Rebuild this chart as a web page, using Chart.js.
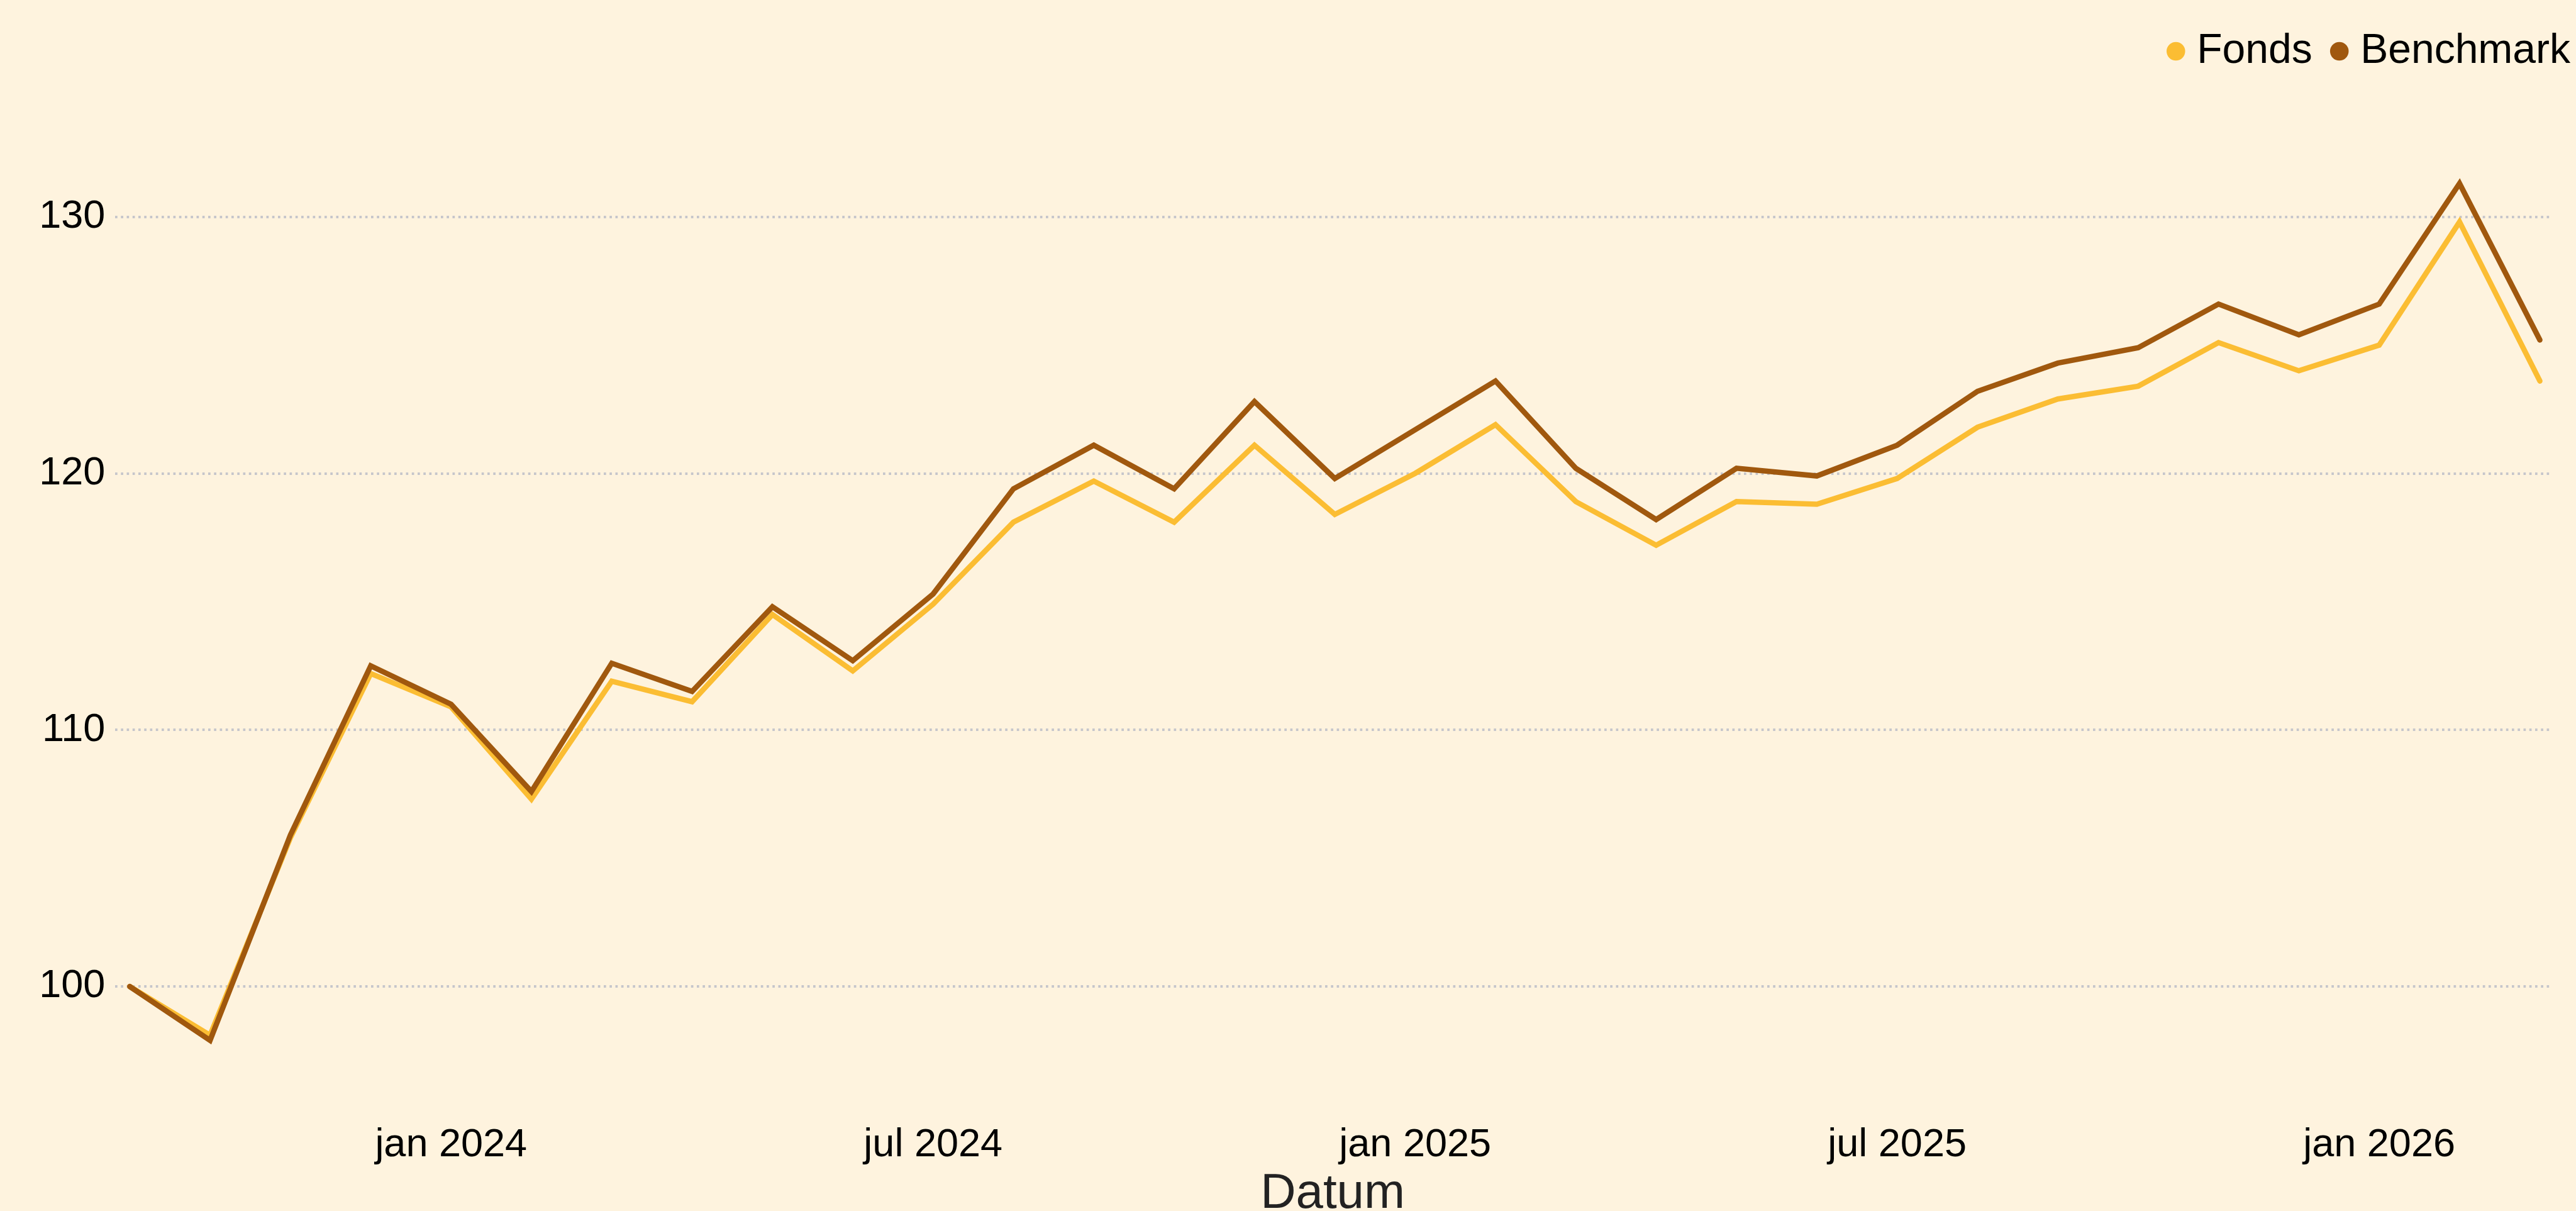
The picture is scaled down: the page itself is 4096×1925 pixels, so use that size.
<!DOCTYPE html>
<html>
<head>
<meta charset="utf-8">
<script src="https://cdn.jsdelivr.net/npm/chart.js@4.4.1/dist/chart.umd.min.js"></script>
<style>
  html, body { margin: 0; padding: 0; background: #fef3de; }
  canvas { display: block; }
</style>
</head>
<body>
<canvas id="fundChart" width="4096" height="1925"></canvas>
<script>
// monthly points, sep 2023 .. mrt 2026
const months = [
  "sep 2023", "okt 2023", "nov 2023", "dec 2023",
  "jan 2024", "feb 2024", "mrt 2024", "apr 2024", "mei 2024", "jun 2024",
  "jul 2024", "aug 2024", "sep 2024", "okt 2024", "nov 2024", "dec 2024",
  "jan 2025", "feb 2025", "mrt 2025", "apr 2025", "mei 2025", "jun 2025",
  "jul 2025", "aug 2025", "sep 2025", "okt 2025", "nov 2025", "dec 2025",
  "jan 2026", "feb 2026", "mrt 2026"
];

const fonds = [
  100.0, 98.1, 105.8, 112.2, 110.9, 107.3, 111.9, 111.1, 114.5, 112.3,
  114.9, 118.1, 119.7, 118.1, 121.1, 118.4, 120.0, 121.9, 118.9, 117.2,
  118.9, 118.8, 119.8, 121.8, 122.9, 123.4, 125.1, 124.0, 125.0, 129.8,
  123.6
];

const benchmark = [
  100.0, 97.9, 105.9, 112.5, 111.0, 107.6, 112.6, 111.5, 114.8, 112.7,
  115.3, 119.4, 121.1, 119.4, 122.8, 119.8, 121.7, 123.6, 120.2, 118.2,
  120.2, 119.9, 121.1, 123.2, 124.3, 124.9, 126.6, 125.4, 126.6, 131.3,
  125.2
];

const yTicks = [100, 110, 120, 130];

// x ticks only at january / july
const xTicks = months
  .map((m, i) => (m.startsWith("jan") || m.startsWith("jul") ? i : null))
  .filter((i) => i !== null);

const FONT = "'Liberation Sans', Arial, Helvetica, sans-serif";
Chart.defaults.font.family = FONT;

const toPoints = (arr) => arr.map((y, i) => ({ x: i, y }));

const ctx = document.getElementById("fundChart");

new Chart(ctx, {
  type: "line",
  data: {
    datasets: [
      {
        label: "Fonds",
        data: toPoints(fonds),
        borderColor: "#fbbd33",
        backgroundColor: "#fbbd33",
        borderWidth: 8.5,
        borderCapStyle: "round",
        pointRadius: 0,
        tension: 0,
        order: 1
      },
      {
        label: "Benchmark",
        data: toPoints(benchmark),
        borderColor: "#a0580e",
        backgroundColor: "#a0580e",
        borderWidth: 8.5,
        borderCapStyle: "round",
        pointRadius: 0,
        tension: 0,
        order: 0
      }
    ]
  },
  options: {
    responsive: false,
    animation: false,
    devicePixelRatio: 1,
    layout: {
      padding: { top: 6, left: 0, right: -33.5, bottom: 0 }
    },
    plugins: {
      tooltip: { enabled: false },
      legend: {
        position: "top",
        align: "end",
        labels: {
          color: "#000",
          font: { size: 66 },
          usePointStyle: true,
          pointStyle: "circle",
          boxWidth: 1,
          boxHeight: 20.9,
          padding: 42.5,
          sort: (a, b) => a.datasetIndex - b.datasetIndex,
          generateLabels: (chart) =>
            Chart.defaults.plugins.legend.labels
              .generateLabels(chart)
              .map((item) => ({ ...item, lineWidth: 0 }))
        }
      }
    },
    scales: {
      x: {
        type: "linear",
        min: -0.179,
        max: 30.127,
        afterBuildTicks: (scale) => {
          scale.ticks = xTicks.map((v) => ({ value: v }));
        },
        afterFit: (scale) => {
          scale.height = 153;
        },
        grid: { display: false, drawTicks: false },
        border: { display: false },
        ticks: {
          autoSkip: false,
          maxRotation: 0,
          padding: 10.9,
          color: "#000",
          font: { size: 63 },
          callback: (value) => months[value]
        },
        title: {
          display: true,
          text: "Datum",
          color: "#222",
          font: { size: 78 },
          padding: { top: 0, bottom: -19.8 }
        }
      },
      y: {
        type: "linear",
        min: 95,
        max: 135.4,
        afterBuildTicks: (scale) => {
          scale.ticks = yTicks.map((v) => ({ value: v }));
        },
        afterFit: (scale) => {
          scale.width = 183.4;
        },
        grid: {
          color: "#c6c6cb",
          lineWidth: 4,
          drawTicks: false
        },
        border: { display: false, dash: [3.7, 5.55] },
        ticks: {
          padding: 16,
          color: "#000",
          font: { size: 63 }
        }
      },
      // empty right axis, only keeps the plot area off the right edge
      yRight: {
        type: "linear",
        position: "right",
        display: true,
        grid: { display: false, drawTicks: false },
        border: { display: false },
        ticks: { display: false },
        afterFit: (scale) => {
          scale.width = 74.7;
        }
      }
    }
  }
});
</script>
</body>
</html>
